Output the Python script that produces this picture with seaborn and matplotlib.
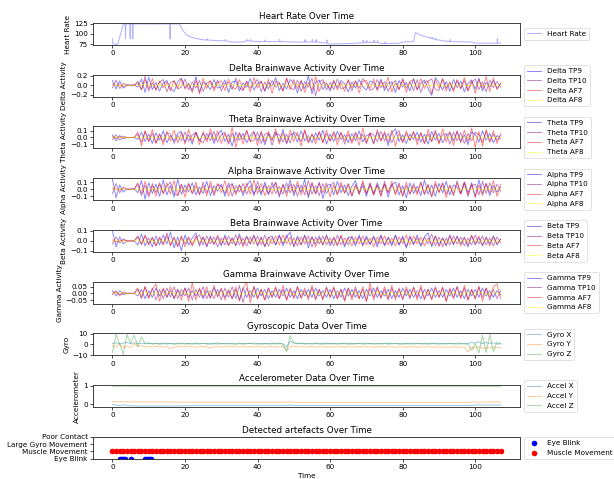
import matplotlib
matplotlib.use("Agg")
import numpy as np
import pandas as pd
import seaborn as sns
import matplotlib.pyplot as plt

# ---------------- data ----------------
time_s = np.arange(0, 108)  # one sample per second, 0..107 s

hr_time = [0.0, 0.1, 1.5, 3.0, 3.5, 3.6, 3.7, 4.8, 4.9, 5.0, 5.5, 5.6, 5.7, 15.8, 15.9, 16.0,
           18.5, 19.5, 20.5, 22.0, 24.0, 25.5, 26.0, 26.1, 26.2, 30.0, 31.0, 31.1, 31.2, 33.0,
           36.0, 37.0, 37.1, 37.2, 38.0, 38.1, 38.2, 40.0, 42.0, 42.1, 42.2, 46.0, 46.1, 46.2,
           50.0, 53.0, 53.1, 53.2, 55.0, 55.1, 55.2, 56.0, 56.1, 56.2, 58.0, 59.0, 59.1, 59.2,
           60.0, 65.0, 69.0, 69.1, 69.2, 70.0, 70.1, 70.2, 72.0, 72.1, 72.2, 73.0, 73.1, 73.2,
           74.0, 75.0, 75.1, 75.2, 79.0, 80.0, 83.0, 83.5, 85.0, 87.0, 88.0, 88.1, 88.2, 89.0,
           89.1, 89.2, 92.0, 93.0, 93.1, 93.2, 99.0, 100.0, 106.0, 106.1, 106.2, 107.0]
hr_bpm = [88, 75, 75, 125, 125, 88, 125, 125, 88, 125, 125, 88, 125, 125, 88, 125,
          125, 108, 97, 91, 87, 85, 85, 88, 85, 83, 83, 86, 83, 80,
          80, 83, 86, 83, 83, 86, 82, 81, 81, 85, 81, 81, 86, 81,
          80, 80, 86, 80, 80, 86, 80, 80, 86, 80, 78, 78, 85, 76,
          75, 76, 78, 84, 78, 79, 84, 79, 79, 84, 79, 79, 83, 79,
          76, 76, 80, 76, 77, 80, 81, 104, 97, 91, 89, 92, 88, 87,
          90, 86, 82, 81, 86, 81, 80, 77, 77, 88, 77, 77]

# Delta
d_tp9 = [0.10, -0.08, 0.09, -0.06, 0.00, 0.00, 0.01, -0.04, 0.13, -0.15, 0.17, -0.09,
         0.06, -0.12, 0.04, 0.10, -0.07, -0.13, 0.08, 0.15, -0.05, 0.03, -0.11, 0.18,
         -0.14, 0.06, 0.02, -0.09, 0.12, -0.06, -0.03, 0.11, -0.15, 0.07, 0.09, -0.12,
         0.05, -0.04, 0.14, -0.10, 0.03, 0.08, -0.13, 0.06, -0.02, 0.16, -0.11, 0.04,
         -0.08, 0.12, 0.05, -0.16, 0.09, -0.07, 0.20, -0.18, 0.06, 0.11, -0.09, 0.04,
         -0.12, 0.08, -0.05, 0.10, 0.03, -0.14, 0.07, -0.06, 0.12, -0.03, -0.10, 0.09,
         0.05, -0.08, 0.13, -0.11, 0.04, 0.07, -0.15, 0.10, -0.04, 0.06, -0.12, 0.14,
         -0.09, 0.03, 0.11, -0.07, -0.21, 0.16, 0.05, -0.10, 0.08, -0.13, 0.12, -0.05,
         0.09, -0.14, 0.04, 0.11, -0.08, 0.15, -0.12, 0.06, -0.03, 0.10, -0.07, 0.03]
d_tp10 = [-0.05, 0.11, -0.07, 0.04, 0.01, 0.00, -0.01, 0.08, -0.10, 0.19, -0.12, 0.05,
          -0.09, 0.07, 0.12, -0.14, 0.06, 0.09, -0.08, -0.04, 0.13, -0.10, 0.07, -0.06,
          0.10, -0.13, 0.05, 0.08, -0.07, 0.11, -0.12, 0.04, 0.06, -0.09, 0.15, -0.05,
          -0.11, 0.09, -0.06, 0.03, 0.12, -0.14, 0.07, -0.08, 0.10, -0.04, 0.05, -0.12,
          0.14, -0.06, -0.09, 0.11, -0.13, 0.08, -0.04, 0.15, -0.22, 0.07, 0.12, -0.10,
          0.06, -0.09, 0.13, -0.07, -0.05, 0.10, -0.12, 0.09, -0.06, 0.14, 0.04, -0.11,
          -0.07, 0.12, -0.05, 0.08, -0.13, 0.03, 0.10, -0.09, 0.14, -0.06, 0.07, -0.11,
          0.12, -0.15, 0.06, 0.09, 0.13, -0.08, -0.11, 0.14, -0.06, 0.05, -0.09, 0.12,
          -0.07, 0.10, -0.12, 0.06, 0.13, -0.09, 0.07, -0.14, 0.11, -0.05, 0.08, -0.04]
d_af7 = [0.02, -0.01, 0.01, -0.02, 0.00, 0.00, 0.00, 0.06, -0.09, 0.12, -0.07, 0.14,
         -0.11, 0.09, -0.05, 0.07, -0.12, 0.10, -0.06, 0.13, -0.08, 0.04, -0.15, 0.11,
         -0.19, 0.14, -0.07, 0.10, -0.12, 0.06, 0.09, -0.11, 0.13, -0.04, -0.08, 0.12,
         -0.10, 0.07, -0.14, 0.16, -0.06, 0.09, -0.11, 0.13, -0.17, 0.08, 0.05, -0.12,
         0.15, -0.09, 0.12, -0.07, 0.10, -0.15, 0.06, -0.11, 0.18, -0.13, 0.07, 0.04,
         -0.08, 0.11, -0.10, 0.06, -0.13, 0.12, -0.05, 0.09, -0.16, 0.08, 0.10, -0.07,
         0.13, -0.12, 0.09, -0.06, 0.17, -0.14, 0.05, -0.09, 0.11, -0.15, 0.08, 0.12,
         -0.10, 0.14, -0.07, 0.09, -0.18, 0.11, -0.06, 0.13, -0.12, 0.07, -0.14, 0.10,
         -0.08, 0.16, -0.11, 0.09, -0.17, 0.12, -0.06, 0.18, -0.13, 0.15, -0.09, 0.05]
d_af8 = [0.01, -0.01, 0.00, 0.01, 0.00, 0.00, 0.00, -0.01, 0.01, 0.02, -0.01, 0.00,
         -0.01, 0.02, -0.01, 0.00, 0.01, -0.01, 0.01, 0.00, -0.02, 0.01, 0.00, -0.01,
         0.01, -0.01, 0.00, 0.01, -0.02, 0.01, 0.00, -0.01, 0.01, 0.02, -0.01, 0.00,
         -0.01, 0.01, 0.00, -0.01, 0.02, -0.01, 0.01, 0.00, -0.01, 0.01, -0.02, 0.01,
         0.00, -0.01, 0.01, 0.02, -0.01, 0.00, 0.01, -0.01, 0.00, 0.01, -0.02, 0.01,
         -0.01, 0.00, 0.01, -0.01, 0.02, -0.01, 0.00, 0.01, -0.01, 0.00, 0.01, -0.02,
         0.01, -0.01, 0.00, 0.02, -0.01, 0.01, 0.00, -0.01, 0.01, -0.02, 0.01, 0.00,
         -0.01, 0.01, 0.00, -0.01, 0.02, -0.01, 0.01, 0.00, -0.01, 0.01, 0.00, -0.02,
         0.01, 0.00, -0.01, 0.01, -0.01, 0.02, 0.00, -0.01, 0.01, 0.00, -0.01, 0.00]

# Theta
t_tp9 = [0.04, -0.05, 0.03, -0.02, 0.00, 0.00, 0.00, -0.03, 0.08, -0.06, 0.05, -0.09,
         0.07, -0.04, 0.10, -0.08, 0.03, -0.05, 0.06, 0.09, -0.07, 0.04, -0.10, 0.08,
         -0.05, 0.06, -0.03, 0.07, -0.09, 0.04, 0.11, -0.06, 0.05, -0.13, 0.08, -0.04,
         0.06, -0.08, 0.03, 0.09, -0.05, 0.07, -0.11, 0.05, -0.03, 0.08, -0.06, 0.12,
         -0.09, 0.04, 0.06, -0.07, 0.10, -0.05, 0.03, -0.08, 0.07, -0.04, 0.11, -0.10,
         0.05, -0.06, 0.09, -0.03, 0.04, -0.08, 0.06, -0.05, 0.10, -0.07, 0.03, 0.05,
         -0.09, 0.08, -0.04, 0.06, -0.12, 0.07, 0.13, -0.06, 0.04, -0.09, 0.05, -0.03,
         0.08, -0.07, 0.05, -0.10, 0.09, -0.04, 0.06, -0.08, 0.03, 0.07, -0.05, 0.09,
         -0.06, 0.04, -0.11, 0.08, 0.05, -0.07, 0.10, -0.04, 0.06, -0.08, 0.03, -0.02]
t_tp10 = [-0.03, 0.04, -0.04, 0.02, 0.00, 0.00, 0.00, 0.05, -0.07, 0.09, -0.05, 0.06,
          -0.08, 0.04, -0.06, 0.07, 0.05, -0.09, 0.03, -0.05, 0.08, -0.06, 0.04, 0.07,
          -0.04, -0.08, 0.06, -0.05, 0.09, -0.07, 0.04, 0.08, -0.10, 0.06, -0.05, 0.07,
          -0.03, 0.10, -0.06, -0.04, 0.08, -0.09, 0.05, 0.07, -0.12, 0.06, 0.04, -0.07,
          0.05, -0.08, 0.09, 0.03, -0.06, 0.10, -0.08, 0.05, -0.04, 0.08, -0.07, 0.06,
          -0.05, 0.09, -0.04, 0.07, -0.10, 0.05, -0.06, 0.08, -0.03, 0.05, -0.09, 0.07,
          0.04, -0.06, 0.09, -0.05, 0.06, -0.08, 0.05, 0.10, -0.07, 0.06, -0.04, 0.08,
          -0.05, 0.07, -0.09, 0.05, -0.06, 0.11, -0.08, 0.04, 0.06, -0.10, 0.08, -0.05,
          0.07, -0.09, 0.06, -0.05, 0.08, 0.04, -0.07, 0.09, -0.06, 0.05, -0.04, 0.03]
t_af7 = [0.01, -0.01, 0.01, 0.00, 0.00, 0.00, 0.00, 0.08, -0.13, 0.10, -0.07, 0.12,
         -0.09, 0.06, -0.11, 0.09, -0.05, 0.11, -0.08, 0.07, -0.10, 0.12, -0.06, 0.08,
         -0.11, 0.09, -0.07, 0.13, -0.05, 0.10, -0.09, 0.06, -0.08, 0.15, -0.15, 0.07,
         -0.10, 0.11, -0.06, 0.08, -0.12, 0.10, -0.07, 0.09, -0.05, 0.13, -0.10, 0.07,
         -0.09, 0.11, -0.06, 0.08, -0.13, 0.12, -0.07, 0.05, -0.10, 0.09, -0.08, 0.11,
         -0.06, 0.07, -0.11, 0.08, -0.05, 0.10, -0.09, 0.06, -0.12, 0.14, -0.08, 0.07,
         -0.10, 0.12, -0.06, 0.09, -0.07, 0.11, -0.13, 0.06, -0.08, 0.10, -0.05, 0.09,
         -0.11, 0.07, -0.09, 0.12, -0.06, 0.08, -0.10, 0.13, -0.07, 0.09, -0.12, 0.10,
         -0.08, 0.11, -0.06, 0.14, -0.15, 0.09, -0.13, 0.12, -0.07, 0.10, -0.09, 0.06]
t_af8 = [0.00, 0.01, -0.01, 0.00, 0.00, 0.00, 0.00, 0.01, -0.01, 0.00, 0.01, -0.01,
         0.01, 0.00, -0.01, 0.01, 0.00, -0.01, 0.01, -0.01, 0.00, 0.01, -0.01, 0.00,
         -0.01, 0.01, 0.00, -0.01, 0.01, 0.00, -0.01, 0.01, -0.01, 0.00, 0.01, -0.01,
         0.00, 0.01, -0.01, 0.01, 0.00, -0.01, 0.00, 0.01, -0.01, 0.01, 0.00, -0.01,
         0.01, -0.01, 0.00, 0.01, -0.01, 0.00, 0.01, 0.00, -0.01, 0.01, -0.01, 0.00,
         0.01, 0.00, -0.01, 0.01, -0.01, 0.00, 0.01, -0.01, 0.00, 0.01, 0.00, -0.01,
         -0.01, 0.01, 0.00, -0.01, 0.01, -0.01, 0.00, 0.01, 0.00, -0.01, 0.01, 0.00,
         0.01, -0.01, 0.00, 0.01, -0.01, 0.00, 0.01, -0.01, 0.01, 0.00, -0.01, 0.01,
         0.00, -0.01, 0.01, 0.00, -0.01, 0.01, 0.00, -0.01, 0.01, -0.01, 0.00, 0.00]

# Alpha
a_tp9 = [0.14, -0.12, 0.06, -0.04, 0.00, 0.00, 0.01, -0.05, 0.12, -0.14, 0.09, -0.06,
         0.07, -0.10, 0.13, -0.08, 0.05, -0.11, 0.14, -0.07, 0.06, -0.04, 0.09, -0.08,
         0.03, -0.06, 0.11, -0.09, 0.05, -0.03, 0.07, -0.10, 0.04, 0.08, -0.05, 0.06,
         -0.09, 0.05, 0.12, -0.07, 0.04, -0.08, 0.10, -0.06, 0.03, 0.09, -0.11, 0.07,
         -0.05, 0.13, -0.09, 0.06, -0.04, 0.14, -0.12, 0.08, -0.06, 0.10, -0.13, 0.05,
         0.07, -0.08, 0.11, -0.05, 0.06, -0.09, 0.04, 0.12, -0.07, 0.05, -0.10, 0.08,
         -0.06, 0.09, -0.04, 0.07, -0.11, 0.06, 0.10, -0.08, 0.05, -0.12, 0.09, -0.06,
         0.04, -0.09, 0.13, -0.07, 0.06, -0.10, 0.08, -0.05, 0.11, -0.08, 0.06, 0.03,
         -0.07, 0.10, -0.05, 0.09, -0.11, 0.13, -0.06, 0.08, -0.09, 0.05, -0.04, 0.03]
a_tp10 = [-0.06, 0.08, -0.05, 0.03, 0.00, 0.00, 0.00, 0.07, -0.09, 0.06, -0.11, 0.08,
          -0.05, 0.09, -0.07, 0.04, 0.10, -0.06, -0.09, 0.07, -0.04, 0.08, -0.06, 0.05,
          -0.08, 0.10, -0.05, 0.06, -0.09, 0.07, 0.04, -0.06, 0.09, -0.10, 0.05, -0.04,
          0.08, -0.07, 0.05, -0.09, 0.11, -0.05, 0.06, -0.08, 0.10, -0.06, 0.04, -0.07,
          0.09, -0.05, 0.07, -0.10, 0.06, -0.08, 0.12, -0.07, 0.05, -0.09, 0.08, -0.06,
          0.04, 0.10, -0.07, 0.06, -0.05, 0.08, -0.10, 0.07, -0.04, 0.09, -0.06, 0.05,
          -0.08, 0.06, -0.09, 0.11, -0.05, 0.07, -0.06, 0.09, -0.10, 0.05, -0.07, 0.08,
          -0.05, 0.10, -0.08, 0.06, -0.11, 0.07, -0.04, 0.09, -0.07, 0.05, -0.09, 0.12,
          -0.06, 0.08, -0.10, 0.05, 0.07, -0.08, 0.11, -0.06, 0.09, -0.05, 0.07, -0.03]
a_af7 = [0.01, 0.00, -0.01, 0.01, 0.00, 0.00, 0.00, 0.09, -0.06, 0.11, -0.08, 0.05,
         -0.10, 0.07, -0.05, 0.09, -0.07, 0.12, -0.09, 0.06, -0.11, 0.08, -0.06, 0.10,
         -0.07, 0.05, -0.09, 0.11, -0.06, 0.08, -0.05, 0.12, -0.10, 0.07, -0.08, 0.06,
         -0.05, 0.09, -0.07, 0.13, -0.06, 0.08, -0.09, 0.05, -0.07, 0.10, -0.08, 0.06,
         -0.10, 0.07, -0.05, 0.11, -0.08, 0.06, -0.09, 0.10, -0.07, 0.08, -0.05, 0.09,
         -0.11, 0.06, -0.08, 0.10, -0.06, 0.07, -0.09, 0.05, -0.07, 0.12, -0.06, 0.09,
         -0.08, 0.06, -0.10, 0.07, -0.05, 0.11, -0.08, 0.06, -0.09, 0.10, -0.07, 0.05,
         -0.08, 0.09, -0.06, 0.07, -0.10, 0.11, -0.05, 0.08, -0.12, 0.06, -0.07, 0.09,
         -0.06, 0.10, -0.08, 0.07, -0.11, 0.06, -0.09, 0.08, -0.05, 0.12, -0.10, 0.07]
a_af8 = [0.01, -0.01, 0.00, 0.01, 0.00, 0.00, 0.00, -0.01, 0.01, 0.00, -0.01, 0.01,
         0.00, -0.01, 0.01, 0.00, -0.01, 0.01, -0.01, 0.00, 0.01, -0.01, 0.00, 0.01,
         -0.01, 0.00, 0.01, -0.01, 0.01, 0.00, -0.01, 0.00, 0.01, -0.01, 0.00, 0.01,
         0.00, -0.01, 0.01, 0.00, -0.01, 0.01, 0.00, -0.01, 0.01, -0.01, 0.00, 0.01,
         -0.01, 0.01, 0.00, -0.01, 0.00, 0.01, -0.01, 0.01, 0.00, -0.01, 0.01, 0.00,
         0.01, -0.01, 0.00, 0.01, -0.01, 0.00, 0.01, 0.00, -0.01, 0.01, -0.01, 0.00,
         0.00, 0.01, -0.01, 0.00, 0.01, -0.01, 0.01, 0.00, -0.01, 0.00, 0.01, -0.01,
         0.01, 0.00, -0.01, 0.01, 0.00, -0.01, 0.00, 0.01, -0.01, 0.01, 0.00, -0.01,
         -0.01, 0.01, 0.00, -0.01, 0.01, 0.00, -0.01, 0.01, 0.00, -0.01, 0.01, 0.00]

# Beta
b_tp9 = [0.10, -0.06, 0.04, -0.03, 0.00, 0.00, 0.00, -0.04, 0.07, -0.05, 0.03, -0.06,
         0.05, -0.04, 0.06, -0.03, 0.09, -0.07, 0.04, -0.10, 0.06, -0.04, 0.03, 0.08,
         -0.05, 0.04, -0.06, 0.05, -0.03, 0.04, -0.05, 0.06, -0.04, 0.03, -0.05, 0.07,
         -0.04, 0.05, -0.03, 0.06, -0.05, 0.04, -0.06, 0.03, 0.05, -0.04, 0.06, -0.05,
         0.04, 0.09, -0.06, 0.05, -0.04, 0.06, -0.07, 0.04, -0.03, 0.05, -0.04, 0.06,
         -0.05, 0.03, -0.04, 0.05, -0.06, 0.04, 0.03, -0.05, 0.06, -0.04, 0.05, -0.03,
         0.04, -0.06, 0.05, -0.04, 0.03, -0.05, 0.06, -0.04, 0.05, -0.07, 0.04, -0.03,
         0.06, -0.05, 0.04, 0.08, -0.06, 0.05, -0.04, 0.03, -0.05, 0.06, -0.04, 0.05,
         -0.03, 0.04, -0.06, 0.05, -0.04, 0.03, -0.05, 0.04, -0.03, 0.05, -0.04, 0.02]
b_tp10 = [-0.03, 0.04, -0.02, 0.02, 0.00, 0.00, 0.00, 0.05, -0.04, 0.06, -0.03, 0.04,
          -0.05, 0.03, -0.04, 0.08, -0.05, 0.04, -0.06, 0.05, -0.03, 0.04, -0.05, 0.03,
          0.06, -0.04, 0.05, -0.03, 0.04, -0.06, 0.03, -0.04, 0.05, -0.03, 0.06, -0.04,
          0.03, -0.05, 0.04, -0.03, 0.05, -0.04, 0.06, -0.05, 0.03, -0.04, 0.05, -0.03,
          0.06, -0.04, 0.03, -0.05, 0.04, -0.03, 0.05, -0.06, 0.04, -0.03, 0.05, -0.04,
          0.03, -0.05, 0.06, -0.04, 0.03, -0.04, 0.05, -0.03, 0.04, -0.05, 0.03, -0.04,
          0.05, -0.03, 0.06, -0.05, 0.04, -0.03, 0.05, -0.04, 0.03, -0.06, 0.05, -0.04,
          0.03, -0.05, 0.04, -0.03, 0.07, -0.05, 0.04, -0.06, 0.03, -0.04, 0.05, -0.03,
          0.04, -0.05, 0.03, -0.04, 0.06, -0.03, 0.05, -0.04, 0.03, -0.05, 0.04, -0.02]
b_af7 = [0.01, -0.01, 0.00, 0.01, 0.00, 0.00, 0.00, 0.04, -0.03, 0.05, -0.04, 0.03,
         -0.05, 0.04, -0.03, 0.05, -0.04, 0.03, -0.05, 0.04, -0.06, 0.03, -0.04, 0.05,
         -0.03, 0.04, -0.05, 0.03, -0.04, 0.06, -0.03, 0.04, -0.05, 0.03, -0.04, 0.05,
         -0.06, 0.04, -0.03, 0.05, -0.04, 0.03, -0.05, 0.04, -0.03, 0.05, -0.04, 0.06,
         -0.03, 0.04, -0.05, 0.03, -0.04, 0.05, -0.03, 0.04, -0.06, 0.03, -0.04, 0.05,
         -0.03, 0.04, -0.05, 0.06, -0.04, 0.03, -0.05, 0.04, -0.03, 0.05, -0.04, 0.03,
         -0.06, 0.04, -0.03, 0.05, -0.04, 0.03, -0.05, 0.04, -0.03, 0.06, -0.04, 0.05,
         -0.03, 0.04, -0.05, 0.03, -0.04, 0.05, -0.06, 0.03, -0.04, 0.05, -0.03, 0.04,
         -0.05, 0.03, -0.04, 0.06, -0.03, 0.05, -0.04, 0.03, -0.05, 0.04, -0.03, 0.02]
b_af8 = [0.00, 0.01, 0.00, -0.01, 0.00, 0.00, 0.00, 0.01, 0.00, -0.01, 0.01, 0.00,
         -0.01, 0.00, 0.01, 0.00, -0.01, 0.01, 0.00, -0.01, 0.00, 0.01, 0.00, -0.01,
         0.01, 0.00, -0.01, 0.00, 0.01, -0.01, 0.00, 0.01, 0.00, -0.01, 0.01, 0.00,
         -0.01, 0.01, 0.00, -0.01, 0.00, 0.01, -0.01, 0.00, 0.01, 0.00, -0.01, 0.01,
         0.00, -0.01, 0.01, 0.00, -0.01, 0.00, 0.01, 0.00, -0.01, 0.01, 0.00, -0.01,
         0.01, 0.00, -0.01, 0.00, 0.01, -0.01, 0.00, 0.01, 0.00, -0.01, 0.00, 0.01,
         -0.01, 0.00, 0.01, -0.01, 0.00, 0.01, 0.00, -0.01, 0.01, 0.00, -0.01, 0.00,
         0.01, -0.01, 0.00, 0.01, 0.00, -0.01, 0.01, 0.00, -0.01, 0.00, 0.01, -0.01,
         0.00, 0.01, -0.01, 0.00, 0.01, 0.00, -0.01, 0.01, 0.00, -0.01, 0.00, 0.00]

# Gamma
g_tp9 = [0.02, -0.02, 0.02, -0.01, 0.00, 0.00, 0.00, -0.02, 0.03, -0.04, 0.02, -0.03,
         0.04, -0.02, 0.03, -0.03, 0.02, -0.04, 0.03, -0.02, 0.04, -0.03, 0.02, -0.02,
         0.03, -0.04, 0.02, -0.03, 0.04, -0.02, 0.03, -0.03, 0.02, -0.04, 0.03, -0.05,
         0.04, -0.03, 0.02, -0.03, 0.04, -0.02, 0.03, -0.04, 0.02, -0.03, 0.03, -0.02,
         0.04, -0.03, 0.02, -0.04, 0.03, -0.02, 0.03, -0.03, 0.04, -0.02, 0.02, -0.03,
         0.03, -0.04, 0.02, -0.03, 0.04, -0.02, 0.03, -0.03, 0.02, -0.04, 0.03, -0.02,
         0.04, -0.03, 0.02, -0.02, 0.03, -0.04, 0.02, -0.03, 0.04, -0.02, 0.03, -0.03,
         0.02, -0.04, 0.03, -0.02, 0.04, -0.03, 0.02, -0.03, 0.03, -0.02, 0.04, -0.03,
         0.02, -0.04, 0.03, -0.02, 0.03, -0.03, 0.04, -0.02, 0.02, -0.03, 0.02, -0.01]
g_tp10 = [-0.01, 0.02, -0.02, 0.01, 0.00, 0.00, 0.00, 0.03, -0.04, 0.05, -0.03, 0.04,
          -0.05, 0.03, -0.04, 0.04, -0.03, 0.05, -0.04, 0.03, -0.02, 0.04, -0.05, 0.03,
          -0.03, 0.05, -0.04, 0.02, -0.04, 0.03, -0.05, 0.04, -0.03, 0.05, -0.04, 0.06,
          -0.07, 0.04, -0.03, 0.05, -0.04, 0.03, -0.05, 0.04, -0.03, 0.04, -0.04, 0.03,
          -0.05, 0.04, -0.03, 0.05, -0.04, 0.02, -0.03, 0.04, -0.05, 0.03, -0.04, 0.05,
          -0.03, 0.04, -0.04, 0.03, -0.05, 0.04, -0.03, 0.05, -0.04, 0.03, -0.06, 0.04,
          -0.03, 0.05, -0.04, 0.03, -0.05, 0.04, -0.03, 0.04, -0.05, 0.03, -0.04, 0.05,
          -0.03, 0.04, -0.05, 0.03, -0.04, 0.05, -0.03, 0.04, -0.06, 0.03, -0.04, 0.05,
          -0.03, 0.04, -0.05, 0.03, -0.04, 0.05, -0.03, 0.04, -0.05, 0.03, -0.04, 0.02]
g_af7 = [0.00, 0.01, -0.01, 0.00, 0.00, 0.00, 0.00, 0.04, -0.03, 0.05, -0.04, 0.03,
         0.07, -0.06, 0.04, -0.03, 0.05, -0.04, 0.03, -0.05, 0.04, -0.06, 0.08, -0.05,
         0.04, -0.03, 0.05, -0.04, 0.06, -0.03, 0.04, -0.05, 0.03, -0.04, 0.05, -0.06,
         0.04, 0.08, -0.07, 0.05, -0.04, 0.03, -0.05, 0.04, -0.03, 0.05, -0.04, 0.06,
         -0.05, 0.03, -0.04, 0.05, -0.03, 0.04, -0.05, 0.06, -0.04, 0.03, -0.05, 0.04,
         -0.03, 0.05, -0.04, 0.03, -0.06, 0.04, -0.05, 0.03, -0.04, 0.05, -0.06, 0.08,
         -0.05, 0.04, -0.03, 0.05, -0.04, 0.06, -0.05, 0.03, -0.04, 0.05, -0.03, 0.04,
         -0.05, 0.06, -0.04, 0.03, -0.05, 0.04, -0.03, 0.05, -0.06, 0.04, -0.03, 0.05,
         -0.04, 0.06, -0.05, 0.03, -0.04, 0.05, -0.06, 0.04, -0.03, 0.05, 0.07, -0.04]
g_af8 = [0.00, 0.00, 0.01, 0.00, 0.00, 0.00, 0.00, -0.01, 0.00, 0.01, 0.00, -0.01,
         0.01, 0.00, -0.01, 0.00, 0.01, 0.00, -0.01, 0.00, 0.01, -0.01, 0.00, 0.01,
         0.00, -0.01, 0.00, 0.01, 0.00, -0.01, 0.01, 0.00, -0.01, 0.00, 0.01, 0.00,
         -0.01, 0.00, 0.01, -0.01, 0.00, 0.01, 0.00, -0.01, 0.00, 0.01, 0.00, -0.01,
         0.01, 0.00, -0.01, 0.00, 0.01, 0.00, -0.01, 0.01, 0.00, -0.01, 0.00, 0.01,
         0.00, -0.01, 0.01, 0.00, -0.01, 0.00, 0.01, 0.00, -0.01, 0.00, 0.01, -0.01,
         0.00, 0.01, 0.00, -0.01, 0.00, 0.01, -0.01, 0.00, 0.01, 0.00, -0.01, 0.00,
         0.01, 0.00, -0.01, 0.01, 0.00, -0.01, 0.00, 0.01, 0.00, -0.01, 0.01, 0.00,
         -0.01, 0.00, 0.01, 0.00, -0.01, 0.01, 0.00, -0.01, 0.00, 0.01, 0.00, 0.00]

# Gyroscope
gyro_x = [0.8, 1.5, 0.6, 1.2, 1.8, 0.9, 1.4, 0.7, 1.1, 0.9, 1.2, 0.8,
          1.0, 0.7, 1.1, 0.9, 0.6, 1.0, 0.8, 1.2, 0.9, 0.7, 1.0, 0.8,
          1.1, 0.9, 0.7, 1.0, 0.8, 1.2, 0.9, 0.6, 1.0, 0.8, 1.1, 0.9,
          0.7, 1.0, 0.9, 1.2, 0.8, 1.0, 0.7, 0.9, 1.1, 0.8, 1.0, 0.6,
          -2.5, 3.0, 1.4, 0.9, 1.1, 0.8, 1.0, 0.7, 0.9, 1.1, 0.8, 1.0,
          0.9, 0.7, 1.0, 0.8, 1.1, 0.9, 0.7, 1.0, 0.8, 1.2, 0.9, 0.8,
          1.0, 0.7, 0.9, 1.1, 0.8, 1.0, 0.9, 0.7, 1.0, 0.8, 1.1, 0.9,
          0.8, 1.0, 0.7, 0.9, 1.1, 0.8, 1.0, 0.9, 0.7, 1.0, 0.8, 1.1,
          0.9, 1.0, 0.8, 2.0, 1.2, 2.5, 0.6, 1.8, 0.9, 1.5, 0.4, 0.6]
gyro_y = [-1.0, -2.5, 0.5, -3.0, -1.5, -2.8, 0.8, -2.0, -1.2, -2.4, -1.8, -2.2,
          -1.6, -2.0, -2.5, -1.8, -4.0, -2.2, -1.9, -2.4, -2.0, -1.7, -2.3, -2.6,
          -2.0, -1.8, -2.2, -3.5, -2.1, -1.9, -2.4, -2.0, -2.2, -1.8, -2.5, -2.1,
          -1.9, -2.3, -2.0, -2.4, -1.8, -2.2, -2.6, -2.0, -1.9, -2.3, -2.1, -1.8,
          -5.5, -2.0, -1.5, -2.3, -2.0, -2.5, -2.1, -1.9, -2.4, -2.2, -2.0, -2.3,
          -2.1, -2.5, -2.2, -1.9, -2.4, -2.0, -2.6, -2.2, -2.1, -2.4, -2.0, -2.3,
          -2.5, -2.1, -2.3, -2.0, -2.4, -2.2, -2.6, -2.1, -2.3, -2.5, -2.0, -2.4,
          -2.2, -2.6, -2.3, -2.1, -2.5, -2.2, -2.4, -2.7, -2.3, -2.5, -2.2, -2.6,
          -2.4, -2.3, -7.0, -2.5, -3.5, -2.0, -4.0, -2.8, -3.2, -2.5, -3.0, -2.8]
gyro_z = [-7.5, 9.2, 0.5, -9.2, 9.0, 1.0, 8.5, -2.0, 7.0, 0.5, 1.0, 0.3,
          0.8, 0.2, 0.6, 0.4, 0.9, 0.1, 0.5, 0.7, 0.3, 0.8, 0.2, 0.6,
          0.4, 0.9, 0.5, 0.2, 0.7, 0.3, 0.6, 0.8, 0.4, 0.5, 0.1, 0.7,
          0.3, 0.6, 0.9, 0.4, 0.5, 0.2, 0.8, 0.3, 0.6, 0.4, 0.7, 0.2,
          -7.0, 8.0, 1.5, 0.5, 0.8, 0.3, 0.6, 0.4, 0.7, 0.5, 0.2, 0.6,
          0.4, 0.8, 0.3, 0.5, 0.7, 0.2, 0.6, 0.4, 0.9, 0.3, 0.5, 0.7,
          0.2, 0.6, 0.4, 0.8, 0.3, 0.5, 0.7, 0.4, 0.2, 0.6, 0.5, 0.3,
          0.8, 0.4, 0.6, 0.2, 0.7, 0.5, 0.3, 0.6, 0.4, 0.8, 0.5, 0.3,
          0.6, 0.4, 0.2, -5.5, 0.8, -8.0, 8.5, -7.5, 9.0, -6.5, 2.0, 0.5]

# Accelerometer
accel_x = [-0.02, -0.05, -0.08, -0.04, -0.06, -0.09, -0.10, -0.10, -0.11, -0.10, -0.11, -0.10,
           -0.10, -0.11, -0.10, -0.10, -0.11, -0.10, -0.10, -0.09, -0.09, -0.08, -0.08, -0.08,
           -0.08, -0.08, -0.08, -0.08, -0.08, -0.08, -0.08, -0.08, -0.08, -0.08, -0.08, -0.08,
           -0.08, -0.08, -0.08, -0.08, -0.08, -0.08, -0.08, -0.08, -0.08, -0.08, -0.08, -0.08,
           -0.07, -0.05, -0.07, -0.08, -0.08, -0.08, -0.08, -0.08, -0.08, -0.08, -0.08, -0.08,
           -0.08, -0.08, -0.08, -0.08, -0.08, -0.08, -0.08, -0.08, -0.08, -0.08, -0.08, -0.08,
           -0.08, -0.08, -0.08, -0.08, -0.08, -0.08, -0.08, -0.08, -0.08, -0.08, -0.08, -0.08,
           -0.08, -0.08, -0.08, -0.08, -0.08, -0.08, -0.08, -0.08, -0.08, -0.08, -0.08, -0.08,
           -0.08, -0.08, -0.08, -0.07, -0.05, -0.04, -0.06, -0.04, -0.05, -0.04, -0.05, -0.05]
accel_y = [0.14, 0.13, 0.14, 0.13, 0.14, 0.13, 0.13, 0.13, 0.12, 0.12, 0.12, 0.12,
           0.12, 0.12, 0.12, 0.12, 0.11, 0.11, 0.11, 0.11, 0.11, 0.11, 0.11, 0.11,
           0.11, 0.11, 0.11, 0.11, 0.11, 0.11, 0.11, 0.11, 0.11, 0.11, 0.11, 0.11,
           0.11, 0.11, 0.11, 0.11, 0.11, 0.11, 0.11, 0.11, 0.11, 0.11, 0.11, 0.11,
           0.12, 0.13, 0.11, 0.10, 0.10, 0.10, 0.10, 0.10, 0.10, 0.10, 0.10, 0.10,
           0.10, 0.10, 0.10, 0.10, 0.10, 0.10, 0.10, 0.10, 0.10, 0.10, 0.10, 0.10,
           0.10, 0.10, 0.10, 0.10, 0.10, 0.10, 0.10, 0.10, 0.10, 0.10, 0.10, 0.10,
           0.10, 0.10, 0.10, 0.10, 0.10, 0.10, 0.10, 0.10, 0.10, 0.10, 0.10, 0.10,
           0.10, 0.10, 0.10, 0.11, 0.12, 0.11, 0.12, 0.11, 0.12, 0.13, 0.12, 0.12]
accel_z = [0.99, 0.98, 0.99, 0.98, 0.99, 0.99, 0.98, 0.98, 0.98, 0.98, 0.98, 0.98,
           0.98, 0.98, 0.98, 0.98, 0.98, 0.98, 0.98, 0.98, 0.98, 0.98, 0.98, 0.98,
           0.98, 0.98, 0.98, 0.98, 0.98, 0.98, 0.98, 0.98, 0.98, 0.98, 0.98, 0.98,
           0.98, 0.98, 0.98, 0.98, 0.98, 0.98, 0.98, 0.98, 0.98, 0.98, 0.98, 0.98,
           0.97, 0.99, 0.98, 0.98, 0.98, 0.98, 0.98, 0.98, 0.98, 0.98, 0.98, 0.98,
           0.98, 0.98, 0.98, 0.98, 0.98, 0.98, 0.98, 0.98, 0.98, 0.98, 0.98, 0.98,
           0.98, 0.98, 0.98, 0.98, 0.98, 0.98, 0.98, 0.98, 0.98, 0.98, 0.98, 0.98,
           0.98, 0.98, 0.98, 0.98, 0.98, 0.98, 0.98, 0.98, 0.98, 0.98, 0.98, 0.98,
           0.98, 0.98, 0.98, 0.98, 0.97, 0.98, 0.97, 0.98, 0.97, 0.98, 0.98, 0.98]

# Artefacts
artefact_types = ["Eye Blink", "Muscle Movement", "Large Gyro Movement", "Poor Contact"]
eye_blink_times = [2.0, 2.5, 3.0, 3.5, 5.0, 9.0, 9.5, 10.0, 10.5]
muscle_times = list(time_s)

channels = ["TP9", "TP10", "AF7", "AF8"]
eeg_colors = ["blue", "purple", "red", "yellow"]
bands = [
    ("Delta", [d_tp9, d_tp10, d_af7, d_af8]),
    ("Theta", [t_tp9, t_tp10, t_af7, t_af8]),
    ("Alpha", [a_tp9, a_tp10, a_af7, a_af8]),
    ("Beta", [b_tp9, b_tp10, b_af7, b_af8]),
    ("Gamma", [g_tp9, g_tp10, g_af7, g_af8]),
]

# ---------------- plot ----------------
plt.rcParams.update({
    "font.size": 10.5,
    "axes.titlesize": 12.6,
    "axes.labelsize": 10.5,
    "xtick.labelsize": 10.5,
    "ytick.labelsize": 10.5,
    "legend.fontsize": 10.5,
    "axes.linewidth": 1.3,
    "axes.edgecolor": "#333333",
    "xtick.major.width": 1.0,
    "ytick.major.width": 1.0,
    "xtick.major.size": 4.2,
    "ytick.major.size": 4.2,
})

fig, axes = plt.subplots(9, 1, figsize=(12.28, 9.58), dpi=50)
fig.subplots_adjust(left=0.1515, right=0.847, top=0.952, bottom=0.042, hspace=1.35)


def draw_line(ax, x, y, **kw):
    sns.lineplot(x=x, y=y, ax=ax, **kw)
    return ax.get_lines()[-1]


def place_legend(ax, handles, labels):
    ax.legend(handles, labels, loc="center left", bbox_to_anchor=(1, 0.5))


ax = axes[0]
h = draw_line(ax, hr_time, hr_bpm, color="blue", alpha=0.3)
ax.set_title("Heart Rate Over Time")
ax.set_ylabel("Heart Rate")
place_legend(ax, [h], ["Heart Rate"])

for i, (band, series) in enumerate(bands, start=1):
    ax = axes[i]
    hs = [draw_line(ax, time_s, vals, color=col, alpha=0.5, linewidth=1.3)
          for vals, col in zip(series, eeg_colors)]
    ax.set_title(f"{band} Brainwave Activity Over Time")
    ax.set_ylabel(f"{band} Activity")
    place_legend(ax, hs, [f"{band} {ch}" for ch in channels])

motion_colors = ["tab:blue", "tab:orange", "tab:green"]

ax = axes[6]
hs = [draw_line(ax, time_s, vals, color=col, alpha=0.4)
      for vals, col in zip([gyro_x, gyro_y, gyro_z], motion_colors)]
ax.set_title("Gyroscopic Data Over Time")
ax.set_ylabel("Gyro")
place_legend(ax, hs, ["Gyro X", "Gyro Y", "Gyro Z"])

ax = axes[7]
hs = [draw_line(ax, time_s, vals, color=col, alpha=0.4)
      for vals, col in zip([accel_x, accel_y, accel_z], motion_colors)]
ax.set_title("Accelerometer Data Over Time")
ax.set_ylabel("Accelerometer")
place_legend(ax, hs, ["Accel X", "Accel Y", "Accel Z"])

ax = axes[8]
sns.scatterplot(x=eye_blink_times, y=[artefact_types.index("Eye Blink")] * len(eye_blink_times),
                color="blue", s=65, linewidth=0, ax=ax)
sns.scatterplot(x=muscle_times, y=[artefact_types.index("Muscle Movement")] * len(muscle_times),
                color="red", s=65, linewidth=0, ax=ax)
ax.set_yticks(range(len(artefact_types)))
ax.set_yticklabels(artefact_types)
ax.set_title("Detected artefacts Over Time")
place_legend(ax, ax.collections[:2], ["Eye Blink", "Muscle Movement"])

for a in axes:
    a.set_xlabel("")
axes[8].set_xlabel("Time")

fig.savefig("out.png", dpi=50)
